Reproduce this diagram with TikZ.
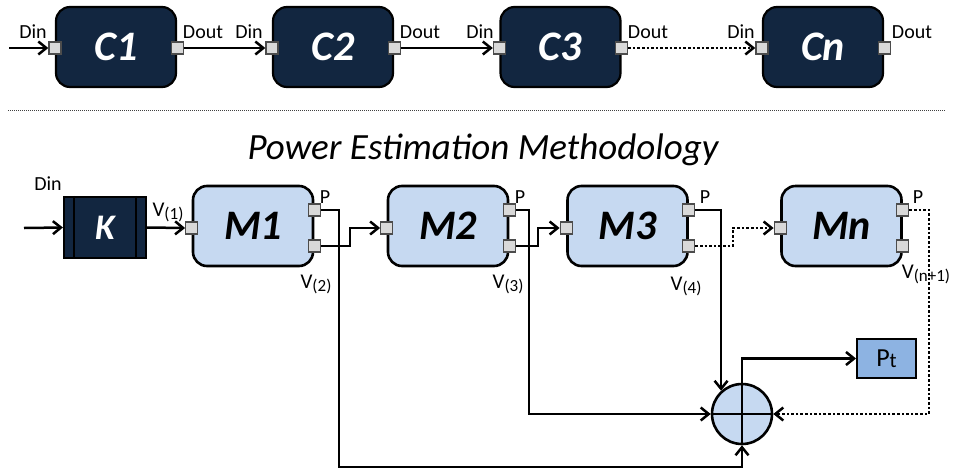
\documentclass[tikz,border=0pt]{standalone}
\usepackage{fontspec}
\setmainfont{Carlito}
\usetikzlibrary{arrows.meta}
\definecolor{navy}{RGB}{18,38,64}
\definecolor{mfill}{RGB}{198,217,241}
\definecolor{ptfill}{RGB}{141,179,226}
\definecolor{portfill}{RGB}{217,217,217}
\newcommand{\vsub}[1]{V{\fontsize{17}{17}\selectfont\raisebox{-3pt}{(#1)}}}
\begin{document}
\begin{tikzpicture}[x=1pt,y=-1pt,
  cbox/.style={draw=black,line width=2.2pt,fill=navy,rounded corners=14pt,minimum width=120pt,minimum height=80pt,text=white,font=\fontsize{42}{42}\selectfont\bfseries\itshape},
  mbox/.style={draw=black,line width=2.6pt,fill=mfill,rounded corners=14pt,minimum width=120pt,minimum height=80pt,font=\fontsize{42}{42}\selectfont\bfseries\itshape},
  port/.style={draw=black!70,fill=portfill,line width=1.2pt,minimum size=12pt,inner sep=0pt},
  wire/.style={line width=2.5pt,-{Straight Barb[length=8pt,width=13pt]}},
  dots/.style={dash pattern=on 2.6pt off 2pt},
  lbl/.style={inner sep=0pt,font=\fontsize{20}{20}\selectfont},
  plbl/.style={inner sep=0pt,font=\fontsize{20}{20}\selectfont},
  vlbl/.style={inner sep=0pt,font=\fontsize{21}{21}\selectfont}
]
\useasboundingbox (0,0) rectangle (953,472);

% ---------- top chain ----------
\node[cbox] (c1) at (116,47) {C1};
\node[cbox] (c2) at (333,47) {C2};
\node[cbox] (c3) at (560.5,47) {C3};
\node[cbox] (cn) at (823,47) {Cn};
\foreach \b in {c1,c2,c3,cn}{
  \node[port] (\b in) at (\b.west |- 0,48) {};
  \node[port] (\b out) at (\b.east |- 0,48) {};
}
\coordinate (topin) at (9,48);
\draw[wire] (topin) -- (c1in.west);
\draw[wire] (c1out.east) -- (c2in.west);
\draw[wire] (c2out.east) -- (c3in.west);
\draw[wire,dots] (c3out.east) -- (cnin.west);

\node[lbl] (d1) at (33,32) {Din};
\node[lbl] (o1) at (203,32) {Dout};
\node[lbl] (d2) at (249,32) {Din};
\node[lbl] (o2) at (420,32) {Dout};
\node[lbl] (d3) at (480,32) {Din};
\node[lbl] (o3) at (648,32) {Dout};
\node[lbl] (d4) at (741,32) {Din};
\node[lbl] (o4) at (912,32) {Dout};

% separator and title
\coordinate (sepa) at (8,110);
\coordinate (sepb) at (945,110);
\draw[line width=1pt,black!75,dash pattern=on 1pt off 1pt] (sepa) -- (sepb);
\node[inner sep=0pt,font=\fontsize{37}{37}\selectfont\itshape] (title) at (483,150) {Power Estimation Methodology};

% ---------- bottom chain ----------
\node[lbl] (bdin) at (48,184) {Din};
\node[draw=black,line width=2.2pt,fill=navy,minimum width=82pt,minimum height=61pt,text=white,font=\fontsize{36}{36}\selectfont\bfseries\itshape] (K) at (105,227.5) {K};
\draw[line width=2pt] ([xshift=11pt]K.north west) -- ([xshift=11pt]K.south west);
\draw[line width=2pt] ([xshift=-11pt]K.north east) -- ([xshift=-11pt]K.south east);
\coordinate (botin) at (24,228);
\draw[wire] (botin) -- (K.west);

\node[mbox] (m1) at (253,226) {M1};
\node[mbox] (m2) at (448,226) {M2};
\node[mbox] (m3) at (627.5,226) {M3};
\node[mbox] (mn) at (841.5,226) {Mn};
\foreach \b in {m1,m2,m3,mn}{
  \node[port] (\b in) at (\b.west |- 0,228) {};
  \node[port] (\b p) at (\b.east |- 0,210) {};
  \node[port] (\b v) at (\b.east |- 0,246) {};
}
\draw[wire] (K.east) -- (m1in.west);
\draw[wire] (m1v.east) -| (350,237) |- (m2in.west);
\draw[wire] (m2v.east) -| (538,237) |- (m3in.west);
\draw[wire,dots] (m3v.east) -| (733,237) |- (mnin.west);

\node[plbl] (p1) at (325,197) {P};
\node[plbl] (p2) at (520,197) {P};
\node[plbl] (p3) at (705,197) {P};
\node[plbl] (p4) at (918,197) {P};

\node[vlbl] (v1) at (168,212) {\vsub{1}};
\node[vlbl] (v2) at (316,284) {\vsub{2}};
\node[vlbl] (v3) at (508,284) {\vsub{3}};
\node[vlbl] (v4) at (686,286) {\vsub{4}};
\node[vlbl] (vn) at (926,274) {\vsub{n+1}};

% adder
\node[circle,draw=black,line width=2.6pt,fill=mfill,minimum size=60pt,inner sep=0pt] (sum) at (742,414) {};
\draw[line width=2.5pt] (sum.north) -- (sum.south);
\draw[line width=2.5pt] (sum.west) -- (sum.east);

\node[draw=black,line width=2pt,fill=ptfill,minimum width=59pt,minimum height=39pt,inner sep=0pt,font=\fontsize{26}{26}\selectfont] (pt) at (886.5,358.5) {P{\fontsize{21}{21}\selectfont\raisebox{-1.5pt}{t}}};

\draw[wire] (m1p.east) -| (339,467) -| (sum.south);
\draw[wire] (m2p.east) -| (529,300) |- (sum.west);
\draw[wire] (m3p.east) -| (sum.132);
\draw[wire,dots] (mnp.east) -| (929,300) |- (sum.east);
\draw[wire] (sum.north) |- (pt.west);
\end{tikzpicture}
\end{document}
